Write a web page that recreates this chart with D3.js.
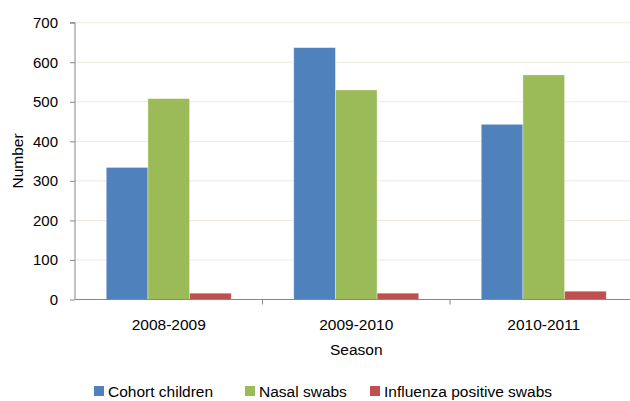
<!DOCTYPE html>
<html>
<head>
<meta charset="utf-8">
<script src="https://cdn.jsdelivr.net/npm/d3@7"></script>
<style>
  body { margin: 0; background: #fff; }
  text { font-family: "Liberation Sans", "DejaVu Sans", sans-serif; fill: #000; }
</style>
</head>
<body>
<svg id="chart" width="630" height="401"></svg>
<script>
// data
const seasons = ['2008-2009', '2009-2010', '2010-2011'];
const seriesNames = ['Cohort children', 'Nasal swabs', 'Influenza positive swabs'];
const cohortChildren = [334, 637, 443];
const nasalSwabs = [508, 530, 568];
const fluPositive = [16, 16, 21];
const yTicks = [0, 100, 200, 300, 400, 500, 600, 700];
const colors = ['#4F81BD', '#9BBB59', '#C0504D'];

const series = [cohortChildren, nasalSwabs, fluPositive];

const svg = d3.select('#chart');
const mLeft = 75, mRight = 637.5, mTop = 22.7, mBottom = 299.5;

const x = d3.scaleBand().domain(seasons).range([mLeft, mRight]);
const xs = d3.scaleBand().domain(d3.range(series.length))
  .range([0, x.bandwidth()]).paddingOuter(0.75).paddingInner(0);
const y = d3.scaleLinear().domain([0, 700]).range([mBottom, mTop]);

// gridlines
svg.append('g')
  .selectAll('line')
  .data(yTicks.filter(d => d > 0))
  .join('line')
  .attr('x1', mLeft).attr('x2', 630)
  .attr('y1', d => y(d)).attr('y2', d => y(d))
  .attr('stroke', '#EEE9E2').attr('stroke-width', 1);

// bars
series.forEach((vals, si) => {
  svg.append('g')
    .selectAll('rect')
    .data(vals)
    .join('rect')
    .attr('x', (d, i) => x(seasons[i]) + xs(si))
    .attr('width', xs.bandwidth())
    .attr('y', d => y(d))
    .attr('height', d => y(0) - y(d))
    .attr('fill', colors[si])
    .attr('stroke', 'rgba(255,255,255,0.45)')
    .attr('stroke-width', 0.8);
});

// y axis
const yAxis = svg.append('g')
  .attr('transform', `translate(${mLeft},0)`)
  .call(d3.axisLeft(y).tickValues(yTicks).tickSize(5).tickPadding(12));
yAxis.select('.domain').attr('stroke', '#888').attr('d', `M-5,${mTop}H0V${mBottom}`);
yAxis.selectAll('.tick line').attr('stroke', '#888');
yAxis.selectAll('text').style('font-size', '15px').attr('fill', '#000');

// x axis
const xAxis = svg.append('g')
  .attr('transform', `translate(0,${mBottom})`)
  .call(d3.axisBottom(x).tickSize(0).tickPadding(19));
xAxis.select('.domain').attr('stroke', '#888').attr('d', `M${mLeft},0H${mRight}`);
xAxis.selectAll('text').style('font-size', '15.5px').attr('fill', '#000');
// category separators
xAxis.selectAll('.sep')
  .data(seasons.slice(1))
  .join('line')
  .attr('x1', d => x(d)).attr('x2', d => x(d))
  .attr('y1', 0).attr('y2', 5)
  .attr('stroke', '#888');

// axis titles
svg.append('text')
  .attr('transform', 'translate(23,161) rotate(-90)')
  .attr('text-anchor', 'middle')
  .style('font-size', '15.5px')
  .text('Number');
svg.append('text')
  .attr('x', (mLeft + mRight) / 2).attr('y', 355)
  .attr('text-anchor', 'middle')
  .style('font-size', '15.5px')
  .text('Season');

// legend
const legendX = [94, 245, 370];
const leg = svg.append('g')
  .selectAll('g')
  .data(seriesNames)
  .join('g')
  .attr('transform', (d, i) => `translate(${legendX[i]},386)`);
leg.append('rect')
  .attr('width', 10).attr('height', 10)
  .attr('fill', (d, i) => colors[i]);
leg.append('text')
  .attr('x', 14).attr('y', 10.5)
  .style('font-size', '15.5px')
  .text(d => d);
</script>
</body>
</html>
